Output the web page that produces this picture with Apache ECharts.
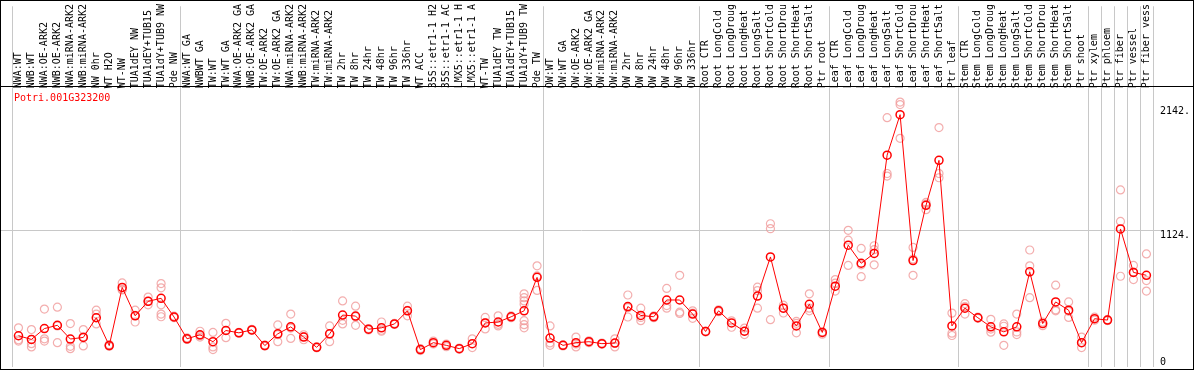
<!DOCTYPE html>
<html><head><meta charset="utf-8">
<script src="https://cdn.jsdelivr.net/npm/echarts@6/dist/echarts.min.js"></script>
<style>html,body{margin:0;padding:0;background:#fff}#c{width:1194px;height:370px;box-sizing:border-box;border:1px solid #000}</style>
</head><body><div id="c"></div><script>
const geneId = 'Potri.001G323200';
const categories = [
 'NWA:WT','NWB:WT','NWA:OE-ARK2','NWB:OE-ARK2','NWA:miRNA-ARK2','NWB:miRNA-ARK2','NW 0hr','WT H2O','WT-NW','TUA1dEY NW','TUA1dEY+TUB15','TUA1dY+TUB9 NW','Pde NW',
 'NWA:WT GA','NWBWT GA','TW:WT','TW:WT GA','NWA:OE-ARK2 GA','NWB:OE-ARK2 GA','TW:OE-ARK2','TW:OE-ARK2 GA','NWA:miRNA-ARK2','NWB:miRNA-ARK2','TW:miRNA-ARK2','TW:miRNA-ARK2',
 'TW 2hr','TW 8hr','TW 24hr','TW 48hr','TW 96hr','TW 336hr','WT ACC','35S::etr1-1 H2','35S::etr1-1 AC','LMX5::etr1-1 H','LMX5::etr1-1 A','WT-TW','TUA1dEY TW','TUA1dEY+TUB15','TUA1dY+TUB9 TW','Pde TW',
 'OW:WT','OW:WT GA','OW:OE-ARK2','OW:OE-ARK2 GA','OW:miRNA-ARK2','OW:miRNA-ARK2','OW 2hr','OW 8hr','OW 24hr','OW 48hr','OW 96hr','OW 336hr',
 'Root CTR','Root LongCold','Root LongDroug','Root LongHeat','Root LongSalt','Root ShortCold','Root ShortDrou','Root ShortHeat','Root ShortSalt','Ptr root',
 'Leaf CTR','Leaf LongCold','Leaf LongDroug','Leaf LongHeat','Leaf LongSalt','Leaf ShortCold','Leaf ShortDrou','Leaf ShortHeat','Leaf ShortSalt','Ptr leaf',
 'Stem CTR','Stem LongCold','Stem LongDroug','Stem LongHeat','Stem LongSalt','Stem ShortCold','Stem ShortDrou','Stem ShortHeat','Stem ShortSalt','Ptr shoot',
 'Ptr xylem','Ptr phloem','Ptr fiber','Ptr vessel','Ptr fiber vess'
];
const means = [
 257,227,316,343,230,243,405,176,654,421,540,565,411,
 232,265,208,300,281,305,176,273,330,246,162,273,
 427,419,311,322,354,462,143,200,178,151,192,362,370,413,462,737,
 238,178,200,208,192,197,497,424,413,551,551,435,
 292,462,362,294,583,905,484,338,516,284,
 665,1002,853,934,1742,2075,875,1329,1699,338,
 484,405,330,289,330,783,357,535,467,200,
 397,386,1135,778,754
];
const replicates = [
 [322,224,213],[308,192,165],[476,232,213],[492,200,337],[357,170,151],[308,173,248],[467,435,354],[185,170,176],[691,638,633],[467,370,425],[575,511,540],[686,651,511,435,413],[418,405,411],
 [240,226,232],[294,246,258],[284,165,143],[359,241,300],[285,278],[310,300],[180,172],[346,208,265],[435,235,320],[265,224,249],[165,158],[338,208,273],
 [543,354,384],[500,343,413],[315,305],[370,294,302],[358,350],[500,421,465],[151,135],[213,190],[189,167],[156,146],[232,160],[408,313,365],[421,338,351],[420,405],[602,570,543,516,381,348,322],[832,630,749],
 [338,178,198],[183,173],[246,165,189],[215,200],[197,187],[232,165,194],[592,411,488],[484,381,407],[420,406],[646,505,484],[754,451,440],[462,400,443],
 [296,288],[470,455],[380,327],[320,294,267],[656,628,484],[1178,1137,389],[508,484,444],[375,281,359],[602,462,484],[290,270],
 [719,690,624],[1124,1043,835],[975,743,840],[997,965,840],[2050,1591,1570],[2178,2158,1880],[983,754,888],[1353,1294,1340],[1969,1591,1556],[443,278,259],
 [521,435,497],[410,400],[392,286,312],[354,335,178],[435,267,288],[962,832,570],[370,340],[673,462,470],[535,408,458],[246,200,160],
 [410,385],[390,382],[1456,1197,746],[835,719,780],[930,711,624]
];
const groupBoundaries = [0,13,41,53,63,73,83,84,85,86,87,88];
const yLabelValues = [1124, 2142];
const yZeroLabel = [0];
const yMax = 2966;

const FONT = 'DejaVu Sans Mono';
const repPoints = [];
replicates.forEach((arr, i) => arr.forEach(v => repPoints.push([i, v])));

const chart = echarts.init(document.getElementById('c'), null, {renderer: 'canvas'});
const option = {
  animation: false,
  title: {text: geneId, left: 8, top: 87, textStyle: {color: '#ff0000', fontSize: 10, fontFamily: FONT, fontWeight: 'normal'}},
  grid: {left: 11, width: 1144, top: 0, bottom: 2},
  xAxis: [
    {type: 'category', data: categories, position: 'top', offset: -85, boundaryGap: true,
     axisLine: {show: false}, axisTick: {show: false}, splitLine: {show: false},
     axisLabel: {interval: 0, rotate: 90, margin: 3, fontSize: 10, fontFamily: FONT, color: '#000'}},
    {type: 'value', min: 0, max: 88, show: false}
  ],
  yAxis: [
    {type: 'value', min: 0, max: yMax, position: 'right', axisLine: {show: false}, axisTick: {show: false}, splitLine: {show: false},
     axisLabel: {customValues: yLabelValues, formatter: v => v + '.', verticalAlign: 'top', align: 'left', margin: 7, fontSize: 10, fontFamily: FONT, color: '#000'}},
    {type: 'value', min: 0, max: yMax, position: 'right', axisLine: {show: false}, axisTick: {show: false}, splitLine: {show: false},
     axisLabel: {customValues: yZeroLabel, formatter: v => String(v), verticalAlign: 'bottom', align: 'left', margin: 7, fontSize: 10, fontFamily: FONT, color: '#000'}}
  ],
  series: [
    {type: 'line', xAxisIndex: 1, yAxisIndex: 0, data: [], silent: true,
     markLine: {silent: true, symbol: 'none', label: {show: false}, lineStyle: {color: '#c8c8c8', width: 1, type: 'solid'},
       data: groupBoundaries.map(b => ({xAxis: b}))}},
    {type: 'scatter', xAxisIndex: 0, yAxisIndex: 0, data: repPoints, symbol: 'circle', symbolSize: 8, z: 3,
     itemStyle: {color: 'rgba(0,0,0,0)', borderColor: '#f09a9a', borderWidth: 1.2}},
    {type: 'line', xAxisIndex: 0, yAxisIndex: 0, data: means, symbol: 'circle', symbolSize: 8, z: 5,
     lineStyle: {color: '#ff0000', width: 1}, itemStyle: {color: 'rgba(0,0,0,0)', borderColor: '#ff0000', borderWidth: 1.5}}
  ]
};
chart.setOption(option);
const yGrid = Math.round(chart.convertToPixel({yAxisIndex: 0}, yLabelValues[0])) + 0.5;
chart.setOption({graphic: [
  {type: 'line', z: 0, silent: true, shape: {x1: 0, y1: yGrid, x2: 1161, y2: yGrid}, style: {stroke: '#c8c8c8', lineWidth: 1}},
  {type: 'line', z: 10, silent: true, shape: {x1: 0, y1: 85.5, x2: 1192, y2: 85.5}, style: {stroke: '#000', lineWidth: 1}}
]});
</script></body></html>
